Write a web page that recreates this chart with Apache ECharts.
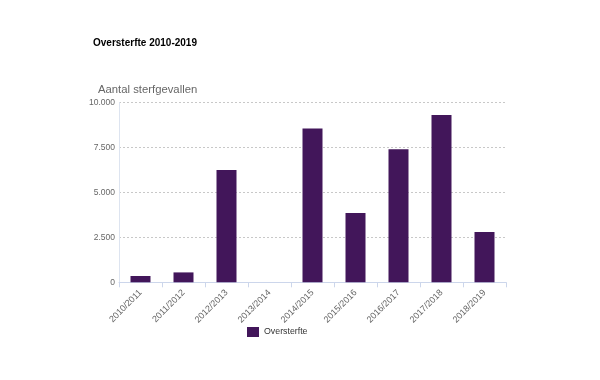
<!DOCTYPE html>
<html><head><meta charset="utf-8">
<script src="https://cdn.jsdelivr.net/npm/echarts@6/dist/echarts.min.js"></script>
<style>html,body{margin:0;padding:0;background:#fff}#c{width:600px;height:380px}</style>
</head><body><div id="c"></div>
<script>
const categories = ['2010/2011','2011/2012','2012/2013','2013/2014','2014/2015','2015/2016','2016/2017','2017/2018','2018/2019'];
const oversterfte = [350, 550, 6250, 0, 8550, 3850, 7400, 9300, 2800];
const yTicks = [0, 2500, 5000, 7500, 10000];
const chart = echarts.init(document.getElementById('c'), null, {renderer:'canvas'});
chart.setOption({
  animation:false,
  backgroundColor:'#fff',
  title:[
    {text:'Oversterfte 2010-2019', left:93, top:38, padding:0, textStyle:{fontFamily:'Liberation Sans', fontWeight:'bold', fontSize:10, color:'#000'}},
    {text:'Aantal sterfgevallen', left:98, top:84, padding:0, textStyle:{fontFamily:'Liberation Sans', fontWeight:'normal', fontSize:11.3, color:'#666'}}
  ],
  legend:{left:247, top:327, padding:0, itemWidth:12, itemHeight:10, itemGap:3, icon:'rect',
    textStyle:{fontFamily:'Liberation Sans', fontSize:8.8, color:'#333'}, data:['Oversterfte']},
  grid:{left:119, right:94, top:102.5, bottom:97.7, containLabel:false},
  xAxis:{type:'category', data:categories,
    axisLine:{lineStyle:{color:'#ccd6eb'}},
    axisTick:{show:true, length:5, lineStyle:{color:'#ccd6eb'}},
    axisLabel:{rotate:45, fontFamily:'Liberation Sans', fontSize:9, color:'#666', margin:9}},
  yAxis:{type:'value', min:0, max:10000, interval:2500,
    axisLine:{show:true, lineStyle:{color:'#dde4f0'}},
    axisTick:{show:false},
    splitLine:{lineStyle:{color:'#c8c8c8', type:[2,2]}},
    axisLabel:{fontFamily:'Liberation Sans', fontSize:8.5, color:'#666', margin:4,
      formatter:v=> yTicks.includes(v) ? v.toLocaleString('nl-NL') : ''}},
  series:[{name:'Oversterfte', type:'bar', data:oversterfte, barWidth:20,
    itemStyle:{color:'#42165a'}}]
});
</script></body></html>
